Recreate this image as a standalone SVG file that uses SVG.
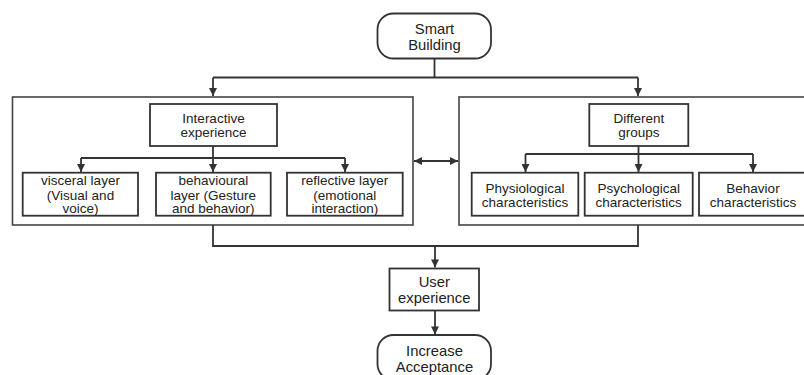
<svg xmlns="http://www.w3.org/2000/svg" width="804" height="375" viewBox="0 0 804 375">
<defs>
<marker id="ah" viewBox="0 0 10 10" refX="10" refY="5" markerWidth="9" markerHeight="8" markerUnits="userSpaceOnUse" orient="auto-start-reverse">
<path d="M0,0 L10,5 L0,10 z" fill="#333"/>
</marker>
<style>
.b{fill:#fff;stroke:#333;stroke-width:1.8}
.o{fill:none;stroke:#444;stroke-width:1.6}
.c{fill:none;stroke:#333;stroke-width:1.8}
text{font-family:"Liberation Sans",Arial,sans-serif;fill:#222;text-anchor:middle}
.s{font-size:13.5px}
.l{font-size:14.8px}
</style>
</defs>
<rect width="804" height="375" fill="#fff"/>
<g id="group-left"><rect class="o" x="12.5" y="97" width="400.5" height="128"/></g>
<g id="group-right"><rect class="o" x="459" y="97" width="350" height="128"/></g>
<g id="connectors">
<path class="c" d="M434.5,58.5 V77.5 M213,77.5 H638"/>
<path class="c" d="M213,77.5 V96" marker-end="url(#ah)"/>
<path class="c" d="M638,77.5 V96" marker-end="url(#ah)"/>
<path class="c" d="M414,161 H458" marker-start="url(#ah)" marker-end="url(#ah)"/>
<path class="c" d="M213,146 V158 M81,158 H345"/>
<path class="c" d="M81,158 V172" marker-end="url(#ah)"/>
<path class="c" d="M213,158 V172" marker-end="url(#ah)"/>
<path class="c" d="M345,158 V172" marker-end="url(#ah)"/>
<path class="c" d="M638.5,146 V154 M525.5,154 H753"/>
<path class="c" d="M525.5,154 V172" marker-end="url(#ah)"/>
<path class="c" d="M638.5,154 V172" marker-end="url(#ah)"/>
<path class="c" d="M753,154 V172" marker-end="url(#ah)"/>
<path class="c" d="M213,225 V246 H638 V225"/>
<path class="c" d="M435,246 V267.5" marker-end="url(#ah)"/>
<path class="c" d="M435,311 V334.5" marker-end="url(#ah)"/>
</g>
<g id="smart-building"><rect class="b" x="377.5" y="13.5" width="113.5" height="45" rx="16"/><text class="l" x="434.5" y="33.5">Smart</text><text class="l" x="434.5" y="49.5">Building</text></g>
<g id="interactive-experience"><rect class="b" x="150" y="104" width="127" height="42"/><text class="s" x="213.5" y="122.5">Interactive</text><text class="s" x="213.5" y="137">experience</text></g>
<g id="visceral"><rect class="b" x="22.7" y="172.7" width="115.3" height="43"/><text class="s" x="80.5" y="185">visceral layer</text><text class="s" x="80.5" y="199.5">(Visual and</text><text class="s" x="80.5" y="213">voice)</text></g>
<g id="behavioural"><rect class="b" x="156" y="172.7" width="114.7" height="43"/><text class="s" x="213.3" y="185">behavioural</text><text class="s" x="213.3" y="199.5">layer (Gesture</text><text class="s" x="213.3" y="213">and behavior)</text></g>
<g id="reflective"><rect class="b" x="287" y="172.7" width="115.7" height="43"/><text class="s" x="344.8" y="185">reflective layer</text><text class="s" x="344.8" y="199.5">(emotional</text><text class="s" x="344.8" y="213">interaction)</text></g>
<g id="different-groups"><rect class="b" x="589.3" y="104" width="99" height="42"/><text class="s" x="638.8" y="122.5">Different</text><text class="s" x="638.8" y="137">groups</text></g>
<g id="physiological"><rect class="b" x="471.7" y="172.7" width="106.6" height="43"/><text class="s" x="525" y="193">Physiological</text><text class="s" x="525" y="206.5">characteristics</text></g>
<g id="psychological"><rect class="b" x="584.7" y="172.7" width="108" height="43"/><text class="s" x="638.7" y="193">Psychological</text><text class="s" x="638.7" y="206.5">characteristics</text></g>
<g id="behavior"><rect class="b" x="699" y="172.7" width="108" height="43"/><text class="s" x="753" y="193">Behavior</text><text class="s" x="753" y="206.5">characteristics</text></g>
<g id="user-experience"><rect class="b" x="389.5" y="268.5" width="89.5" height="42"/><text class="l" x="434.3" y="286.5">User</text><text class="l" x="434.3" y="303">experience</text></g>
<g id="increase-acceptance"><rect class="b" x="377.5" y="335" width="113.5" height="45" rx="16"/><text class="l" x="434.5" y="356">Increase</text><text class="l" x="434.5" y="372">Acceptance</text></g>
</svg>
